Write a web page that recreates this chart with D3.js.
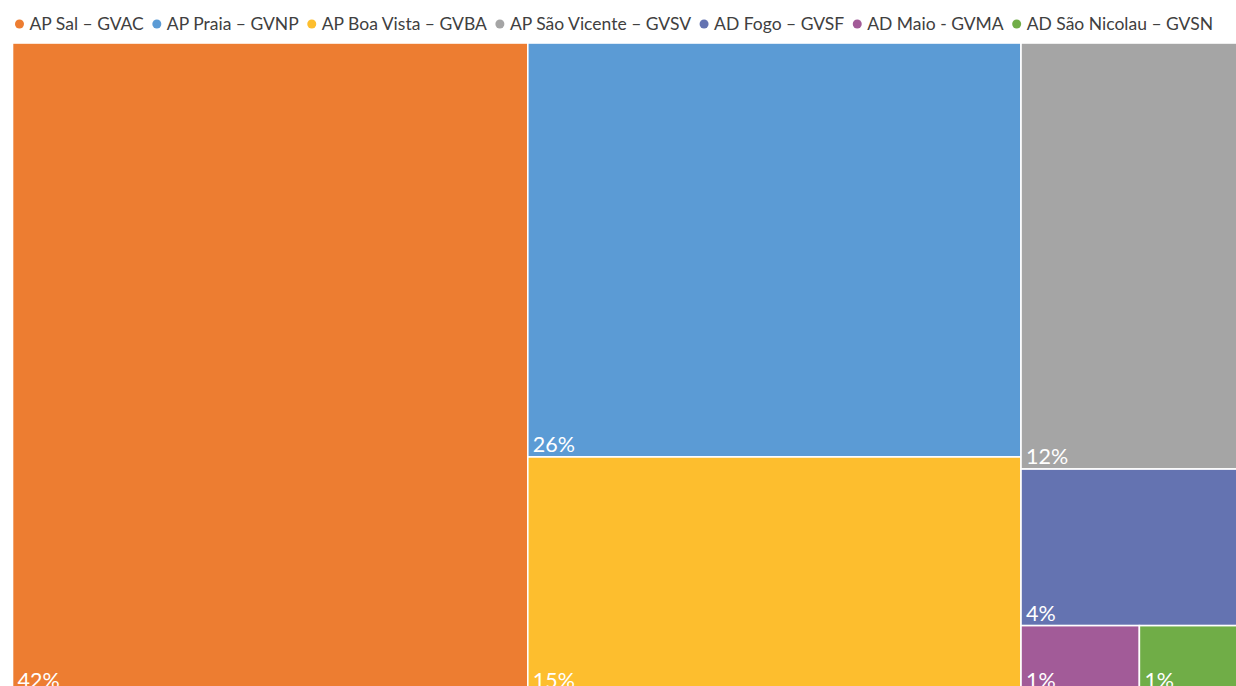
<!DOCTYPE html>
<html>
<head>
<meta charset="utf-8">
<script src="https://cdn.jsdelivr.net/npm/d3@7/dist/d3.min.js"></script>
<style>
  html, body { margin: 0; padding: 0; background: #fff; overflow: hidden; }
  svg { display: block; font-family: Lato, "Open Sans", sans-serif; }
</style>
</head>
<body>
<svg id="chart" width="1236" height="686"></svg>
<script>
var airports = ["AP Sal – GVAC", "AP Praia – GVNP", "AP Boa Vista – GVBA", "AP São Vicente – GVSV",
                "AD Fogo – GVSF", "AD Maio - GVMA", "AD São Nicolau – GVSN"];
var shares   = [42.0, 25.6, 14.6, 11.7, 4.3, 1.0, 0.85];
var colors   = ["#ED7D31", "#5B9BD5", "#FDBE2E", "#A5A5A5", "#6473B1", "#A25B98", "#70AD47"];

var svg = d3.select("#chart");

// plot box: runs a little past the right and bottom edges, like the cropped original
var boxLeft = 12.5, boxTop = 43, boxRight = 1240, boxBottom = 693;

var root = d3.hierarchy({children: airports.map(function(d, i) {
		return {name: d, value: shares[i], color: colors[i]};
	})})
	.sum(function(d) { return d.value || 0; })
	.sort(function(a, b) { return b.value - a.value; });

d3.treemap()
	.tile(d3.treemapSquarify)
	.size([boxRight - boxLeft, boxBottom - boxTop])
	.round(false)(root);

var pct = function(v) { return Math.round(v) + "%"; };

var cells = svg.append("g")
	.attr("transform", "translate(" + boxLeft + "," + boxTop + ")")
	.selectAll("g")
	.data(root.leaves())
	.enter()
	.append("g");

cells.append("rect")
	.attr("x", function(d) { return d.x0; })
	.attr("y", function(d) { return d.y0; })
	.attr("width", function(d) { return d.x1 - d.x0; })
	.attr("height", function(d) { return d.y1 - d.y0; })
	.attr("fill", function(d) { return d.data.color; })
	.attr("stroke", "#fff")
	.attr("stroke-width", 1.6);

cells.append("text")
	.attr("x", function(d) { return d.x0 + 5; })
	.attr("y", function(d) { return d.y1 - 5; })
	.attr("fill", "#fff")
	.style("font-size", "21.5px")
	.text(function(d) { return pct(d.data.value); });

// legend, centred over the chart
var legend = svg.append("g").attr("class", "legend");
var items = legend.selectAll("g")
	.data(airports)
	.enter()
	.append("g");

items.append("circle")
	.attr("r", 4.5)
	.attr("cy", 24)
	.attr("fill", function(d, i) { return colors[i]; });

items.append("text")
	.attr("y", 30)
	.attr("fill", "#404040")
	.style("font-size", "17.5px")
	.text(function(d) { return d; });

var dotGap = 10, itemGap = 13;
var widths = [];
items.each(function() { widths.push(d3.select(this).select("text").node().getComputedTextLength()); });
var full = d3.sum(widths) + widths.length * dotGap + (widths.length - 1) * itemGap + 4.5;
var cx = 1228 / 2 - full / 2 + 4.5;
items.each(function(d, i) {
	var g = d3.select(this);
	g.select("circle").attr("cx", cx);
	g.select("text").attr("x", cx + dotGap);
	cx += dotGap + widths[i] + itemGap;
});
</script>
</body>
</html>
